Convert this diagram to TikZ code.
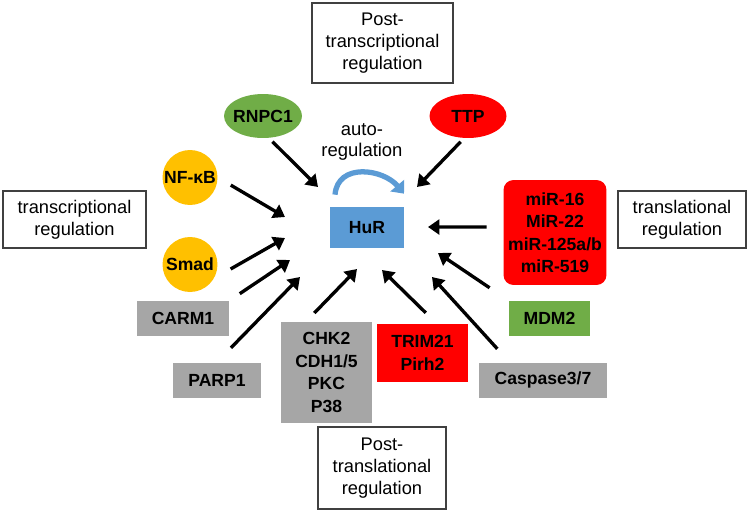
\documentclass[tikz,border=0pt]{standalone}
\usepackage{fontspec}
\setmainfont{Liberation Sans}
\usetikzlibrary{arrows.meta}
\usetikzlibrary{shapes.geometric}
\usetikzlibrary{positioning}
\definecolor{hyel}{HTML}{FFC000}
\definecolor{hgrn}{HTML}{70AD47}
\definecolor{hred}{HTML}{FF0000}
\definecolor{hblu}{HTML}{5B9BD5}
\definecolor{hgry}{HTML}{A6A6A6}

\begin{document}
\begin{tikzpicture}[x=0.02cm,
                    y=0.02cm,
                    >={Triangle[length=6.5pt,width=8.5pt]},
                    arr/.style={->,line width=1.9pt},
                    reg/.style={rectangle,draw=black!75,line width=0.8pt,align=center,inner sep=0pt,font=\fontsize{10.4}{12.3}\selectfont},
                    fac/.style={align=center,inner sep=0pt,font=\fontsize{10}{12.8}\selectfont\bfseries},
                    circ/.style={fac,circle,fill=hyel,minimum size=1.1cm},
                    ell/.style={fac,ellipse,inner xsep=-2.5pt,minimum width=1.56cm,minimum height=0.88cm},
                    box/.style={fac,rectangle,fill=hgry,minimum height=0.7cm}
                    ]
\useasboundingbox (0,0) rectangle (750,512);

% HuR
\node[fac,fill=hblu,minimum width=1.48cm,minimum height=0.82cm] (1) at (367,284.5) {HuR};
\node[align=center,font=\fontsize{10.5}{11.5}\selectfont] (17) at (362,370) {auto-\\regulation};
\draw[hblu,line width=3pt,-{Triangle[length=6pt,width=10pt]}] ([shift={(-32,12)}]1.north) to[out=85,in=130,looseness=1.2] ([shift={(37,13)}]1.north);

% regulators
\node[ell,fill=hgrn] (2) at (263,396) {RNPC1};
\node[ell,fill=hred,minimum width=1.54cm] (3) at (468,396) {TTP};
\node[circ] (4) at (190,334.5) {NF-κB};
\node[circ] (5) at (190,247.5) {Smad};
\node[box,minimum width=1.84cm] (6) at (183,193.5) {CARM1};
\node[box,minimum width=1.76cm] (7) at (217,132) {PARP1};
\node[box,minimum width=1.82cm,minimum height=2.02cm] (8) at (326.5,139.5) {CHK2\\CDH1/5\\PKC\\P38};
\node[box,fill=hred,minimum width=1.82cm,minimum height=1.16cm] (9) at (422.5,159) {TRIM21\\Pirh2};
\node[box,minimum width=2.56cm] (10) at (543,132) {Caspase3/7};
\node[box,fill=hgrn,minimum width=1.62cm] (11) at (549.5,193.5) {MDM2};
\node[box,fill=hred,rounded corners=0.2cm,minimum width=2.06cm,minimum height=2.1cm] (12) at (555,279.5) {miR-16\\MiR-22\\miR-125a/b\\miR-519};

% levels
\node[reg,minimum width=2.82cm,minimum height=1.6cm] (13) at (382.5,469) {Post-\\transcriptional\\regulation};
\node[reg,minimum width=2.86cm,minimum height=1.14cm] (14) at (74.5,292.5) {transcriptional\\regulation};
\node[reg,minimum width=2.56cm,minimum height=1.14cm] (15) at (682,292.5) {translational\\regulation};
\node[reg,minimum width=2.56cm,minimum height=1.64cm] (16) at (382,44) {Post-\\translational\\regulation};

% arrow heads round HuR
\coordinate (a2) at (318,325);
\coordinate (a3) at (417,325);
\coordinate (a4) at (285,295);
\coordinate (a5) at (285,274);
\coordinate (a6) at (290,252);
\coordinate (a7) at (300,235);
\coordinate (a8) at (357,243);
\coordinate (a9) at (382,242);
\coordinate (a10) at (432,235);
\coordinate (a11) at (438,259);
\coordinate (a12) at (428,285);

\draw[arr,shorten <=0.1cm] (2.-75) -- (a2);
\draw[arr,shorten <=0.1cm] (3.-100) -- (a3);
\draw[arr,shorten <=0.3cm] (4.east) -- (a4);
\draw[arr,shorten <=0.38cm] (5.-30) -- (a5);
\draw[arr,shorten <=0.25cm] (6.north east) -- (a6);
\draw[arr,shorten <=0.4cm] (7.north) -- (a7);
\draw[arr,shorten <=0.24cm] (8.112) -- (a8);
\draw[arr,shorten <=0.31cm] (9.64) -- (a9);
\draw[arr,shorten <=0.36cm] (10.152) -- (a10);
\draw[arr,shorten <=0.46cm] (11.north west) -- (a11);
\draw[arr,shorten <=0.33cm] (12.174) -- (a12);
\end{tikzpicture}
\end{document}
